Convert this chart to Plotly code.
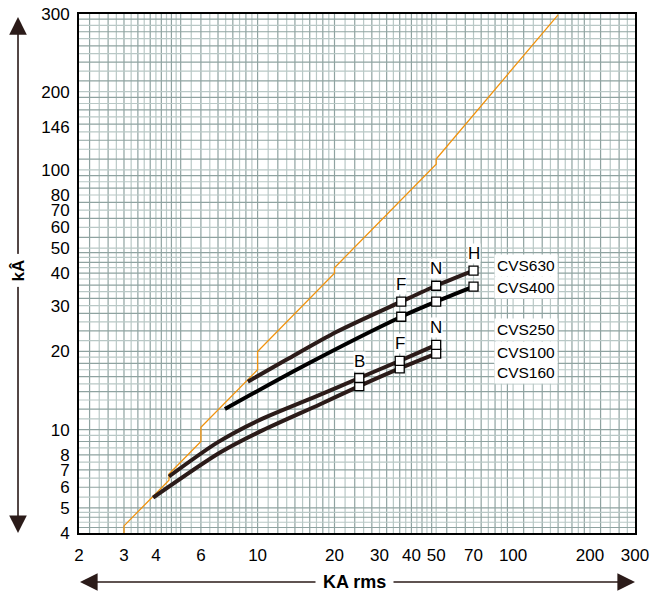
import numpy as np
import plotly.graph_objects as go

# ---------------- data ----------------
# orange peak-current limit line (kÂ vs KA rms)
lim_x = [3, 3, 4.5, 4.5, 6, 6, 10, 10, 20, 20, 50, 50, 150]
lim_y = [4.0, 4.26, 6.39, 6.75, 9.0, 10.2, 17.0, 20.0, 40.0, 42.0, 105, 110, 395]

# CVS630 (upper brown curve)
c630_x = [9.16, 13.0, 20.4, 36.5, 50, 70]
c630_y = [15.3, 18.6, 23.8, 31.1, 35.8, 40.9]
c630_mx = [36.5, 50, 70]
c630_my = [31.1, 35.8, 40.9]
c630_ml = ["F", "N", "H"]

# CVS400 (black curve)
c400_x = [7.45, 15.0, 36.5, 50, 70]
c400_y = [12.0, 17.5, 27.2, 31.1, 35.5]
c400_mx = [36.5, 50, 70]
c400_my = [27.2, 31.1, 35.5]

# lower group, upper curve
cA_x = [4.5, 7.0, 10.2, 17.5, 25, 36, 50]
cA_y = [6.6, 8.95, 10.9, 13.6, 15.8, 18.4, 21.2]
cA_mx = [25, 36, 50]
cA_my = [15.8, 18.4, 21.2]
cA_ml = ["B", "F", "N"]

# lower group, lower curve
cB_x = [3.9, 7.13, 10.2, 17.5, 25, 36, 50]
cB_y = [5.47, 8.16, 9.82, 12.5, 14.7, 17.2, 19.6]
cB_mx = [25, 36, 50]
cB_my = [14.7, 17.2, 19.6]

# right-hand labels (text, y value)
lab_text = ["CVS630", "CVS400", "CVS250", "CVS100", "CVS160"]
lab_y = [42.8, 35.2, 24.2, 19.8, 16.6]
lab_x = 84.2

# tick labels
x_ticks = [2, 3, 4, 6, 10, 20, 30, 40, 50, 70, 100, 200, 300]
y_ticks = [4, 5, 6, 7, 8, 10, 20, 30, 40, 50, 60, 70, 80, 100, 146, 200]
y_top = 398          # top of the axis (labelled "300" in the reference)
y_top_label = "300"

# ---------------- styling ----------------
FONT = "Liberation Sans, Arial, Helvetica, sans-serif"
BROWN = "#2b1b19"
ORANGE = "#f0930e"
GRID_DARK = "#8fa3a1"
GRID_LIGHT = "#b9c8c6"
X_LO, X_HI = 2, 300
Y_LO, Y_HI = 4.0, y_top


def grid_values(lo, hi):
    vals = []
    for d in [1, 10, 100, 1000]:
        seq = list(np.arange(1.0, 2.0, 0.1)) + list(np.arange(2.0, 5.0, 0.2)) + list(np.arange(5.0, 10.0, 0.5))
        for s in seq:
            v = round(s * d, 6)
            if lo + 1e-6 < v < hi - 1e-6:
                vals.append(v)
    return sorted(set(vals))


def split_grid(vals):
    dark = [v for i, v in enumerate(vals) if i % 2 == 0]
    light = [v for i, v in enumerate(vals) if i % 2 == 1]
    return dark, light


xd, xl = split_grid(grid_values(X_LO, X_HI))
yd, yl = split_grid(grid_values(Y_LO, Y_HI))


def vlines(vals):
    xs, ys = [], []
    for v in vals:
        xs += [v, v, None]
        ys += [Y_LO, Y_HI, None]
    return xs, ys


def hlines(vals):
    xs, ys = [], []
    for v in vals:
        xs += [X_LO, X_HI, None]
        ys += [v, v, None]
    return xs, ys


fig = go.Figure()

for vals, col, w in [(xl, GRID_LIGHT, 1.2), (xd, GRID_DARK, 1.2)]:
    gx, gy = vlines(vals)
    fig.add_trace(go.Scatter(x=gx, y=gy, mode="lines", line=dict(color=col, width=w),
                             hoverinfo="skip"))
for vals, col, w in [(yl, GRID_LIGHT, 1.2), (yd, GRID_DARK, 1.2)]:
    gx, gy = hlines(vals)
    fig.add_trace(go.Scatter(x=gx, y=gy, mode="lines", line=dict(color=col, width=w),
                             hoverinfo="skip"))

fig.add_trace(go.Scatter(x=lim_x, y=lim_y, mode="lines",
                         line=dict(color=ORANGE, width=1.3), hoverinfo="skip"))

for xs, ys, col in [(cB_x, cB_y, BROWN), (cA_x, cA_y, BROWN),
                    (c400_x, c400_y, "#000000"), (c630_x, c630_y, BROWN)]:
    fig.add_trace(go.Scatter(x=xs, y=ys, mode="lines",
                             line=dict(color=col, width=4, shape="spline", smoothing=0.8)))

for mx, my in [(cB_mx, cB_my), (cA_mx, cA_my), (c400_mx, c400_my), (c630_mx, c630_my)]:
    fig.add_trace(go.Scatter(x=mx, y=my, mode="markers",
                             marker=dict(symbol="square", size=9, color="white",
                                         line=dict(color="black", width=1.3))))

annotations = []
for mx, my, ml in [(c630_mx, c630_my, c630_ml), (cA_mx, cA_my, cA_ml)]:
    for xv, yv, t in zip(mx, my, ml):
        annotations.append(dict(x=np.log10(xv), y=np.log10(yv), xref="x", yref="y",
                                text=t, showarrow=False, yshift=17,
                                font=dict(family=FONT, size=17, color="black"),
                                bgcolor="white", borderpad=0))

for t, yv in zip(lab_text, lab_y):
    annotations.append(dict(x=np.log10(lab_x), y=np.log10(yv), xref="x", yref="y",
                            text=t, showarrow=False, xanchor="left",
                            font=dict(family=FONT, size=15.5, color="black"),
                            bgcolor="white", borderpad=2))

# axis arrows
ARROW = dict(showarrow=True, arrowhead=2, arrowsize=2.2, arrowwidth=1.6,
             arrowcolor=BROWN, text="", xref="paper", yref="paper")
annotations += [
    dict(x=-0.1097, y=0.994, ax=0, ay=253, **ARROW),
    dict(x=-0.1097, y=0.0, ax=0, ay=-263, **ARROW),
    dict(x=0.0018, y=-0.0944, ax=275, ay=0, **ARROW),
    dict(x=1.0, y=-0.0944, ax=-280, ay=0, **ARROW),
    dict(x=-0.1097, y=0.506, xref="paper", yref="paper", text="<b>kÂ</b>", textangle=-90,
         xanchor="center", yanchor="middle",
         showarrow=False, font=dict(family=FONT, size=17, color="black"),
         bgcolor="white", borderpad=5),
    dict(x=0.496, y=-0.0944, xref="paper", yref="paper", text="<b>KA rms</b>",
         xanchor="center", yanchor="middle",
         showarrow=False, font=dict(family=FONT, size=18, color="black"),
         bgcolor="white", borderpad=7),
]

fig.update_layout(
    width=651, height=593,
    margin=dict(l=79, r=16, t=14, b=60, autoexpand=False),
    paper_bgcolor="white", plot_bgcolor="white",
    showlegend=False,
    annotations=annotations,
    font=dict(family=FONT, size=17, color="black"),
)
# tick positions nudged a hair inside the range so the edge labels are kept
x_vals = [v * 0.9995 if v == X_HI else v * 1.0005 if v == X_LO else v for v in x_ticks]
y_vals = [v * 1.0005 if v == Y_LO else v for v in y_ticks] + [y_top * 0.9995]
y_text = [str(v) for v in y_ticks] + [y_top_label]
fig.update_xaxes(type="log", range=[np.log10(X_LO), np.log10(X_HI)],
                 tickmode="array", tickvals=x_vals, ticktext=[str(v) for v in x_ticks],
                 showgrid=False, automargin=False, ticklabeloverflow="allow",
                 showline=True, mirror=True, linecolor="black", linewidth=2,
                 ticks="", zeroline=False, ticklabelstandoff=6,
                 tickfont=dict(family=FONT, size=17, color="black"))
fig.update_yaxes(type="log", range=[np.log10(Y_LO), np.log10(Y_HI)],
                 tickmode="array", tickvals=y_vals, ticktext=y_text,
                 showgrid=False, automargin=False, ticklabeloverflow="allow",
                 showline=True, mirror=True, linecolor="black", linewidth=2,
                 ticks="", zeroline=False, ticklabelstandoff=4,
                 tickfont=dict(family=FONT, size=17, color="black"))

fig.write_html("out.html", config={"displayModeBar": False},
               post_script="document.body.style.margin='0';document.body.style.overflow='hidden';")
